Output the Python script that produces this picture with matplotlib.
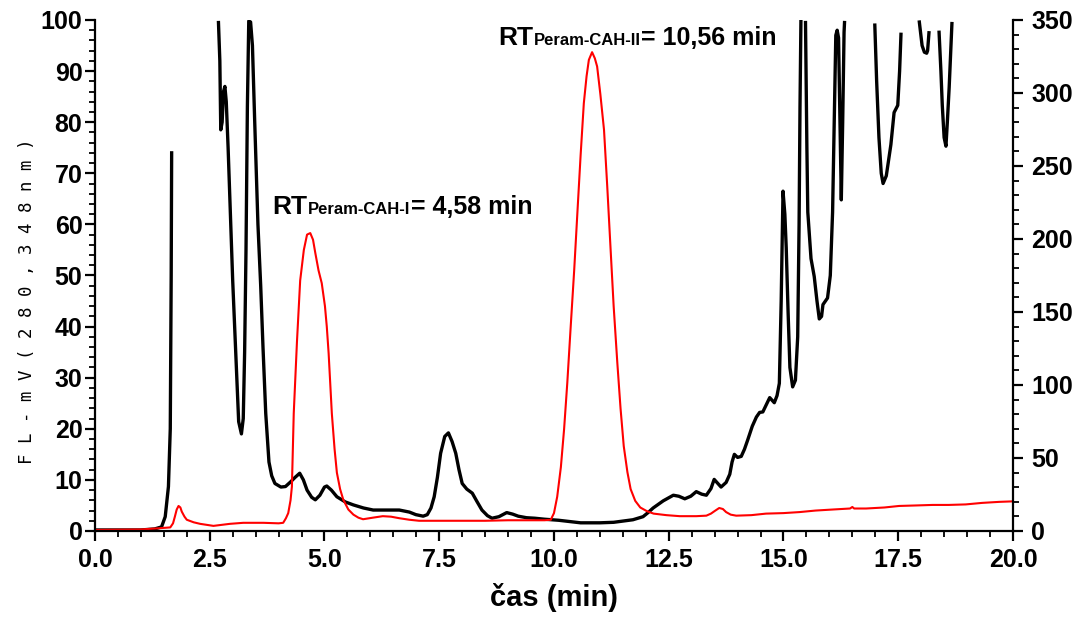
# HPLC chromatogram: FL signal (red) and second trace (black)
import numpy as np
import matplotlib
matplotlib.use("Agg")
import matplotlib.pyplot as plt
from matplotlib.ticker import MultipleLocator, FormatStrFormatter

plt.rcParams['font.family'] = ['Liberation Sans', 'DejaVu Sans']
plt.rcParams['font.weight'] = 'bold'

# black trace (time in min, signal in left-axis units); nan = trace leaves the frame
black_t = [0.0, 1.0, 1.3, 1.45, 1.53, 1.6, 1.64, 1.66, 1.67, 1.68,
           2.69, 2.72, 2.74, 2.77, 2.8, 2.83, 2.86, 2.9, 2.95, 3.0, 3.08, 3.13, 3.19, 3.23, 3.26,
           3.29, 3.32, 3.35, 3.39, 3.43, 3.48, 3.55, 3.61, 3.66, 3.72, 3.79, 3.85, 3.92, 4.05,
           4.15, 4.26, 4.36, 4.46, 4.54, 4.62, 4.72, 4.8, 4.9, 5.0, 5.05, 5.15, 5.27, 5.45,
           5.63, 5.85, 6.06, 6.35, 6.63, 6.85, 6.99, 7.15, 7.24, 7.32, 7.39, 7.46, 7.53, 7.62,
           7.7, 7.78, 7.86, 7.93, 8.0, 8.1, 8.22, 8.32, 8.43, 8.55, 8.65, 8.8, 8.97, 9.1, 9.22,
           9.4, 9.58, 9.8, 10.1, 10.58, 11.0, 11.3, 11.72, 11.94, 12.05, 12.16, 12.38, 12.6,
           12.72, 12.85, 12.98, 13.1, 13.22, 13.32, 13.42, 13.49, 13.57, 13.64, 13.75, 13.83,
           13.88, 13.93, 14.0, 14.08, 14.15, 14.22, 14.32, 14.41, 14.48, 14.55, 14.63, 14.7,
           14.76, 14.8, 14.86, 14.91, 14.95, 14.99, 15.03, 15.06, 15.1, 15.14, 15.2, 15.26,
           15.31, 15.34, 15.36, 15.38, 15.4,
           15.48, 15.51, 15.53, 15.6, 15.67, 15.73, 15.78, 15.83, 15.86, 15.96, 16.02, 16.07,
           16.11, 16.14, 16.17, 16.2, 16.23, 16.26, 16.29, 16.32, 16.33, 16.35,
           16.99, 17.03, 17.08, 17.13, 17.17, 17.24, 17.34, 17.41, 17.49, 17.53, 17.56, 17.6,
           17.96, 18.02, 18.07, 18.12, 18.14, 18.17, 18.2,
           18.39, 18.43, 18.46, 18.5, 18.54, 18.57, 18.61, 18.65, 18.67]
black_v = [0.2, 0.2, 0.4, 0.8, 2.8, 8.7, 20, 50, 74, np.nan,
           99.5, 92, 78.5, 80, 86, 87, 84, 75, 62, 49, 31.7, 21.4, 19.0, 22, 35,
           55, 83, 99.8, 99.6, 95, 80, 60, 48, 36, 23, 13.5, 10.8, 9.3, 8.6,
           8.7, 9.6, 10.5, 11.3, 10, 8.0, 6.6, 6.1, 7, 8.6, 8.8, 8, 6.7, 5.7,
           5.1, 4.5, 4.1, 4.1, 4.1, 3.7, 3.2, 2.9, 3.2, 4.5, 6.7, 10.5, 15.2, 18.5,
           19.2, 17.5, 15.2, 12, 9.3, 8.2, 7.4, 5.8, 4.1, 3.0, 2.5, 2.8, 3.6, 3.3, 2.9,
           2.6, 2.5, 2.3, 2.1, 1.6, 1.6, 1.7, 2.2, 2.8, 3.6, 4.5, 5.9, 7.0,
           6.8, 6.3, 6.8, 7.7, 7.2, 7.0, 8.3, 10.1, 9.3, 8.6, 9.5, 11.1,
           13.5, 15.0, 14.4, 14.6, 16.0, 17.8, 20.5, 22.3, 23.2, 23.3, 24.8, 26.1,
           25.5, 25.1, 26.5, 28.9, 45, 66.5, 62, 55.4, 43, 32, 28.2, 29.5,
           38, 60, 83, 99.8, np.nan,
           99.5, 75, 62.4, 53.3, 49.8, 45, 41.5, 42, 44.3, 45.6, 50, 62.4,
           82, 97, 98, 96.5, 80, 64.8, 80, 97.6, 99.5, np.nan,
           99, 88, 77, 70, 68, 69.5, 75.6, 81.9, 83.3, 90, 97.2, np.nan,
           99.6, 95, 93.7, 93.5, 94, 97.5, np.nan,
           97.6, 90, 83.3, 77, 75.3, 80, 86.8, 95, 99.3]

# red trace (FL detector)
red_t = [0.0, 1.0, 1.34, 1.64, 1.7, 1.74, 1.78, 1.82, 1.86, 1.89, 1.95, 2.0, 2.15, 2.29,
         2.58, 2.94, 3.23, 3.67, 4.0, 4.1, 4.16, 4.21, 4.26, 4.29, 4.33, 4.4, 4.47, 4.55,
         4.62, 4.69, 4.75, 4.8, 4.87, 4.94, 5.01, 5.05, 5.09, 5.16, 5.22, 5.27, 5.34, 5.41,
         5.52, 5.63, 5.74, 5.84, 6.05, 6.27, 6.45, 6.63, 6.85, 7.06, 7.5, 7.93, 8.5, 9.0,
         9.5, 9.8, 9.93, 10.0, 10.07, 10.15, 10.22, 10.29, 10.36, 10.44, 10.51, 10.58, 10.65,
         10.71, 10.76, 10.83, 10.89, 10.94, 11.01, 11.09, 11.16, 11.23, 11.3, 11.38, 11.45,
         11.52, 11.6, 11.67, 11.77, 11.88, 12.02, 12.17, 12.45, 12.74, 13.1, 13.32, 13.42,
         13.5, 13.6, 13.68, 13.75, 13.85, 13.97, 14.3, 14.62, 15.0, 15.35, 15.7, 16.07,
         16.45, 16.5, 16.54, 16.8, 17.2, 17.52, 17.9, 18.25, 18.6, 18.97, 19.33, 19.7, 20.0]
red_v = [0.2, 0.3, 0.5, 0.7, 1.5, 2.8, 4.2, 4.9, 4.6, 3.8, 2.8, 2.2, 1.7, 1.4,
         1.0, 1.4, 1.6, 1.6, 1.5, 1.6, 2.5, 3.5, 6, 8.7, 23, 37, 49, 55,
         58, 58.3, 57, 54.4, 51, 48.5, 44, 40, 34.8, 23, 16, 11.4, 8.2, 6.1,
         4.2, 3.2, 2.6, 2.3, 2.6, 2.9, 2.8, 2.5, 2.2, 2.0, 2.0, 2.0, 2.0, 2.1,
         2.1, 2.1, 2.2, 3.5, 6.7, 12.5, 19.9, 29, 39.4, 51, 62.3, 73.5, 83.7,
         89, 92.2, 93.7, 92.5, 90.9, 85.5, 78.5, 67.5, 55.7, 44, 32.9, 24,
         16.6, 11.5, 8.2, 5.9, 4.6, 3.9, 3.4, 3.1, 2.9, 2.9, 3.0, 3.4,
         3.9, 4.5, 4.3, 3.7, 3.2, 3.0, 3.1, 3.4, 3.5, 3.7, 4.0, 4.2,
         4.4, 4.7, 4.4, 4.4, 4.6, 4.9, 5.0, 5.1, 5.1, 5.2, 5.5, 5.7, 5.8]

fig = plt.figure(figsize=(10.82, 6.17), dpi=100)
ax = fig.add_axes([0.0878, 0.1394, 0.8484, 0.8282])
ax2 = ax.twinx()

ax.plot(black_t, black_v, color='black', lw=2.4, solid_joinstyle='round')
ax.plot(red_t, red_v, color='#ff0000', lw=1.5)

ax.set_xlim(0, 20)
ax.set_ylim(0, 100)
ax2.set_ylim(0, 350)

ax.xaxis.set_major_locator(MultipleLocator(2.5))
ax.xaxis.set_minor_locator(MultipleLocator(0.5))
ax.xaxis.set_major_formatter(FormatStrFormatter('%.1f'))
ax.yaxis.set_major_locator(MultipleLocator(10))
ax.yaxis.set_minor_locator(MultipleLocator(2))
ax2.yaxis.set_major_locator(MultipleLocator(50))
ax2.yaxis.set_minor_locator(MultipleLocator(10))

for a in (ax, ax2):
    a.spines['top'].set_visible(False)
    for s in a.spines.values():
        s.set_linewidth(1.6)
    a.tick_params(which='major', direction='out', length=7, width=1.6, labelsize=18)
    a.tick_params(which='minor', direction='out', length=4, width=1.3)
ax.spines['right'].set_visible(False)
ax2.spines['left'].set_visible(False)
ax2.spines['bottom'].set_visible(False)
ax.tick_params(axis='y', pad=2)
ax.tick_params(axis='x', pad=5)
ax2.tick_params(axis='y', pad=6)

for lab in ax.get_xticklabels() + ax.get_yticklabels() + ax2.get_yticklabels():
    lab.set_fontweight('bold')

ax.set_xlabel('čas (min)', fontsize=21, fontweight='bold', labelpad=8)
ax.set_ylabel('F L - m V ( 2 8 0 , 3 4 8 n m )', fontsize=12.5,
              family='DejaVu Sans Mono', fontweight='normal')
ax.yaxis.set_label_coords(-0.064, 0.45)


def rt_label(x, y, sub, rest):
    # big "RT", small subscript, then the value, all on one baseline
    renderer = fig.canvas.get_renderer()
    t1 = ax.text(x, y, 'RT', fontsize=19, fontweight='bold', va='baseline')
    bb = t1.get_window_extent(renderer)
    x1 = ax.transData.inverted().transform((bb.x1 + 1, 0))[0]
    t2 = ax.text(x1, y, sub, fontsize=12, fontweight='bold', va='baseline')
    bb = t2.get_window_extent(renderer)
    x2 = ax.transData.inverted().transform((bb.x1, 0))[0]
    ax.text(x2, y, rest, fontsize=18, fontweight='bold', va='baseline')


fig.canvas.draw()
rt_label(3.86, 62.0, 'Peram-CAH-I', '= 4,58 min')
rt_label(8.78, 95.2, 'Peram-CAH-II', '= 10,56 min')

fig.savefig('out.png', dpi=100)
